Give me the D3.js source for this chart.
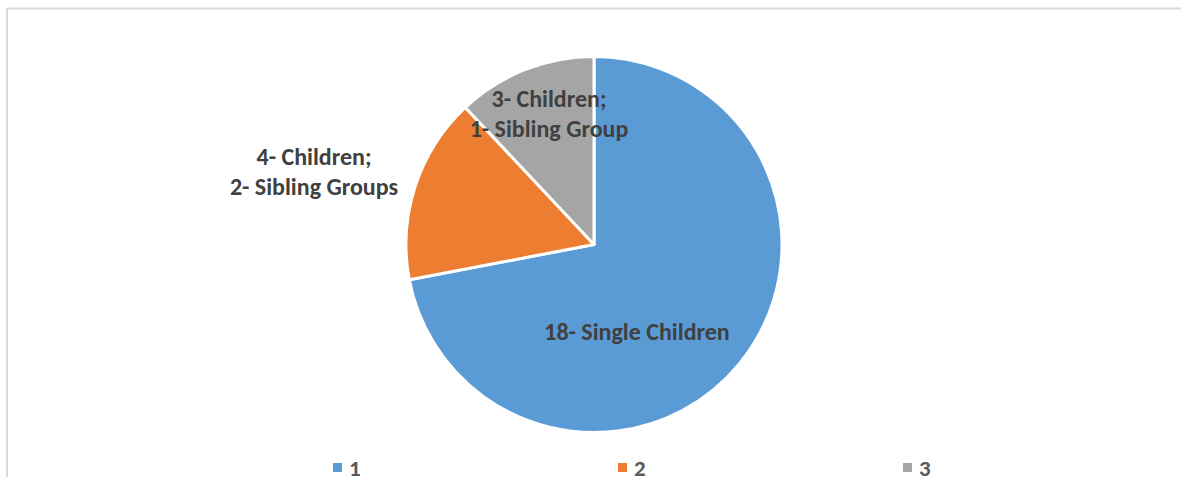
<!DOCTYPE html>
<html>
<head>
<meta charset="utf-8">
<script src="https://cdn.jsdelivr.net/npm/d3@7"></script>
<style>
  html, body { margin: 0; padding: 0; background: #fff; }
  svg { display: block; }
</style>
</head>
<body>
<svg id="chart" width="1181" height="477"></svg>
<script>
// Pie slices: number of children per placement type
const categories = ["1", "2", "3"];
const values = [18, 4, 3];
const labels = [
  ["18- Single Children"],
  ["4- Children;", "2- Sibling Groups"],
  ["3- Children;", "1- Sibling Group"]
];
const colors = ["#5b9bd5", "#ed7d31", "#a5a5a5"];

const svg = d3.select("#chart");
const W = 1181, H = 477;
const font = "Carlito, Calibri, 'Open Sans', sans-serif";

// chart frame (only top and left edges visible)
svg.append("line").attr("x1", 7).attr("y1", 8.5).attr("x2", W).attr("y2", 8.5)
  .attr("stroke", "#d9d9d9").attr("stroke-width", 2);
svg.append("line").attr("x1", 7).attr("y1", 8).attr("x2", 7).attr("y2", H)
  .attr("stroke", "#d9d9d9").attr("stroke-width", 2);

const cx = 594, cy = 244.5, R = 188;
const pie = d3.pie().sort(null).value(d => d)(values);
const arc = d3.arc().innerRadius(0).outerRadius(R);

const g = svg.append("g").attr("transform", `translate(${cx},${cy})`);
g.selectAll("path").data(pie).join("path")
  .attr("d", arc)
  .attr("fill", (d, i) => colors[i])
  .attr("stroke", "#fff")
  .attr("stroke-width", 3)
  .attr("stroke-linejoin", "round");

// data labels, placed relative to the pie centre
const labelPos = [[43, 95], [-280, -80], [-45, -138]];
labels.forEach((lines, i) => {
  const t = g.append("text")
    .attr("text-anchor", "middle")
    .attr("font-family", font)
    .attr("font-weight", "bold")
    .attr("font-size", 24)
    .attr("fill", "#404040");
  lines.forEach((ln, j) => {
    t.append("tspan")
      .attr("x", labelPos[i][0])
      .attr("y", labelPos[i][1] + j * 30)
      .text(ln);
  });
});

// legend
const legendX = d3.scalePoint().domain(categories).range([333, 903]);
const lg = svg.append("g");
categories.forEach((c, i) => {
  const x = legendX(c);
  lg.append("rect").attr("x", x).attr("y", 463).attr("width", 9).attr("height", 9)
    .attr("fill", colors[i]);
  lg.append("text").attr("x", x + 16).attr("y", 476)
    .attr("font-family", font).attr("font-weight", "bold").attr("font-size", 23)
    .attr("fill", "#595959").text(c);
});
</script>
</body>
</html>
